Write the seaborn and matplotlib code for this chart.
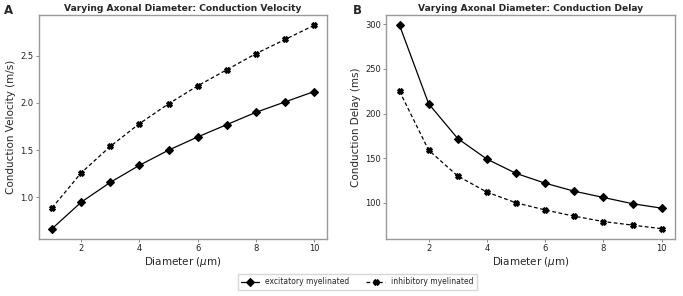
import numpy as np
import pandas as pd
import seaborn as sns
import matplotlib.pyplot as plt

# Values
diameters = [1, 2, 3, 4, 5, 6, 7, 8, 9, 10]
exc_velocity = [0.67, 0.95, 1.16, 1.34, 1.50, 1.64, 1.77, 1.90, 2.01, 2.12]
inh_velocity = [0.89, 1.26, 1.54, 1.78, 1.99, 2.18, 2.35, 2.52, 2.67, 2.82]
exc_delay = [299, 211, 172, 149, 133, 122, 113, 106, 99, 94]
inh_delay = [225, 159, 130, 112, 100, 92, 85, 79, 75, 71]

exc_label = "excitatory myelinated"
inh_label = "inhibitory myelinated"

df = pd.DataFrame({
    "diameter": diameters * 2,
    "velocity": exc_velocity + inh_velocity,
    "delay": exc_delay + inh_delay,
    "type": [exc_label] * len(diameters) + [inh_label] * len(diameters),
})

sns.set_style("ticks")
plt.rcParams["font.family"] = ["DejaVu Sans"]

fig, axes = plt.subplots(1, 2, figsize=(6.83, 2.96), dpi=100)
fig.subplots_adjust(left=0.057, right=0.988, top=0.949, bottom=0.193, wspace=0.205)

panels = [
    ("velocity", "Conduction Velocity (m/s)", "Varying Axonal Diameter: Conduction Velocity", "A"),
    ("delay", "Conduction Delay (ms)", "Varying Axonal Diameter: Conduction Delay", "B"),
]

for ax, (col, ylabel, title, letter) in zip(axes, panels):
    sns.lineplot(
        data=df, x="diameter", y=col, style="type",
        markers={exc_label: "D", inh_label: "X"},
        dashes={exc_label: "", inh_label: (3, 2)},
        color="black", markersize=4.3, linewidth=0.9,
        markeredgecolor="black", markeredgewidth=0.8,
        ax=ax, legend=(ax is axes[0]),
    )
    ax.set_xlabel("Diameter ($\\mu$m)", fontsize=7.5, labelpad=1)
    ax.set_ylabel(ylabel, fontsize=7.5, labelpad=3)
    ax.set_title(title, fontsize=6.6, fontweight="bold", pad=3)
    ax.set_xticks([2, 4, 6, 8, 10])
    ax.tick_params(labelsize=6, length=2, width=0.6, color="#777777",
                   labelcolor="#222222", pad=2)
    for s in ax.spines.values():
        s.set_color("#999999")
        s.set_linewidth(1.0)
        s.set_visible(True)

axes[0].set_yticks([1.0, 1.5, 2.0, 2.5])
axes[1].set_yticks([100, 150, 200, 250, 300])

fig.text(0.006, 0.985, "A", fontsize=8.5, fontweight="bold", va="top", ha="left")
fig.text(0.516, 0.985, "B", fontsize=8.5, fontweight="bold", va="top", ha="left")

handles, labels = axes[0].get_legend_handles_labels()
axes[0].get_legend().remove()
fig.legend(handles, labels, loc="lower center", ncol=2, fontsize=5.5,
           bbox_to_anchor=(0.523, 0.008), frameon=True, fancybox=False,
           edgecolor="#cccccc", columnspacing=2.2, handlelength=2.4,
           handletextpad=0.8, borderpad=0.45, markerscale=0.9)

fig.savefig("out.png", dpi=100)
